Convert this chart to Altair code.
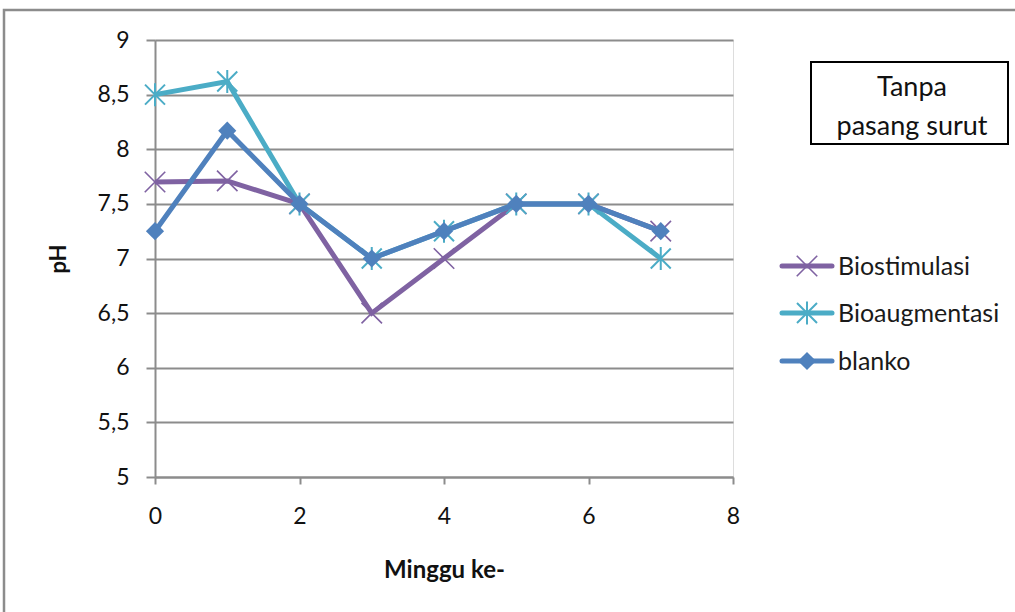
import altair as alt
import pandas as pd

# pH per week for each treatment
weeks = [0, 1, 2, 3, 4, 5, 6, 7]
biostimulasi = [7.7, 7.71, 7.5, 6.5, 7.0, 7.5, 7.5, 7.25]
bioaugmentasi = [8.5, 8.62, 7.5, 7.0, 7.25, 7.5, 7.5, 7.0]
blanko = [7.25, 8.17, 7.5, 7.0, 7.25, 7.5, 7.5, 7.25]

series_names = ["Biostimulasi", "Bioaugmentasi", "blanko"]
series_values = [biostimulasi, bioaugmentasi, blanko]
series_colors = ["#7F62A2", "#4BACC6", "#4F81BD"]

x_ticks = [0, 2, 4, 6, 8]
y_ticks = [5, 5.5, 6, 6.5, 7, 7.5, 8, 8.5, 9]

FONT = "Lato"
GRID = "#8c8c8c"

# marker paths in the unit square
X_PATH = "M-1,-1L1,1M-1,1L1,-1"
STAR_PATH = "M-1,-1L1,1M-1,1L1,-1M0,-1.15L0,1.15"

W, H = 578, 437

x_enc = alt.X(
    "week:Q",
    scale=alt.Scale(domain=[0, 8], nice=False, zero=False),
    axis=alt.Axis(
        values=x_ticks, grid=False, title="Minggu ke-",
        tickSize=7, labelPadding=21, labelFontSize=23, labelFlush=False,
        titleY=100, titleBaseline="alphabetic", titleFontSize=24, titleFontWeight="bold",
    ),
)
y_enc = alt.Y(
    "pH:Q",
    scale=alt.Scale(domain=[5, 9], nice=False, zero=False),
    axis=alt.Axis(
        values=y_ticks, grid=True, title="pH",
        labelExpr="replace(toString(datum.value), '.', ',')",
        tickSize=9, labelPadding=17, labelFontSize=23, labelFlush=False,
        titleX=-97, titleY=H / 2, titleAngle=-90, titleBaseline="middle",
        titleAlign="center", titleFontSize=22, titleFontWeight="bold",
    ),
)

layers = []

# outer chart frame
frame = alt.Chart(pd.DataFrame({"k": [0]})).mark_rect(
    fill=None, stroke=GRID, strokeWidth=2.5
).encode(x=alt.value(-151), x2=alt.value(900), y=alt.value(-30), y2=alt.value(640))
layers.append(frame)

marker_styles = [
    dict(shape=X_PATH, filled=False, size=420, strokeWidth=1.6),
    dict(shape=STAR_PATH, filled=False, size=400, strokeWidth=2),
    dict(shape="diamond", filled=True, size=330, strokeWidth=0),
]

for name, vals, color, ms in zip(series_names, series_values, series_colors, marker_styles):
    df = pd.DataFrame({"week": weeks, "pH": vals, "series": name})
    base = alt.Chart(df)
    line = base.mark_line(color=color, strokeWidth=5).encode(x=x_enc, y=y_enc)
    pts = base.mark_point(color=color, opacity=1, **ms).encode(x=x_enc, y=y_enc)
    layers += [line, pts]

# legend
legend_y = [226, 273, 321]
for name, color, ms, ly in zip(series_names, series_colors, marker_styles, legend_y):
    d = pd.DataFrame({"series": [name]})
    b = alt.Chart(d)
    layers.append(
        b.mark_rule(color=color, strokeWidth=5, strokeCap="round").encode(
            x=alt.value(627), x2=alt.value(677), y=alt.value(ly)
        )
    )
    layers.append(
        b.mark_point(color=color, opacity=1, **ms).encode(x=alt.value(652), y=alt.value(ly))
    )
    layers.append(
        b.mark_text(align="left", baseline="middle", font=FONT, fontSize=25, color="#1a1a1a").encode(
            x=alt.value(683), y=alt.value(ly + 1), text="series:N"
        )
    )

# annotation box
box = alt.Chart(pd.DataFrame({"k": [0]})).mark_rect(
    fill="white", stroke="black", strokeWidth=2
).encode(x=alt.value(656), x2=alt.value(853), y=alt.value(22), y2=alt.value(104))
layers.append(box)
box_lines = pd.DataFrame({"t": ["Tanpa", "pasang surut"], "dy": [48, 87]})
for t, dy in zip(box_lines["t"], box_lines["dy"]):
    layers.append(
        alt.Chart(pd.DataFrame({"t": [t]})).mark_text(
            align="center", baseline="middle", font=FONT, fontSize=27, color="#111111"
        ).encode(x=alt.value(757), y=alt.value(dy), text="t:N")
    )

chart = (
    alt.layer(*layers)
    .properties(
        width=W, height=H,
        autosize=alt.AutoSizeParams(type="none"),
        padding={"left": 155, "top": 40, "right": 282, "bottom": 135},
    )
    .configure_view(stroke=None)
    .configure(background="white")
    .configure_axis(
        domainColor=GRID, domainWidth=2, tickColor=GRID, tickWidth=2,
        gridColor=GRID, gridWidth=2, gridOpacity=1,
        labelFont=FONT, titleFont=FONT, labelColor="#111111", titleColor="#111111",
    )
)

chart.save("out.html", embed_options={"renderer": "svg", "actions": False})
